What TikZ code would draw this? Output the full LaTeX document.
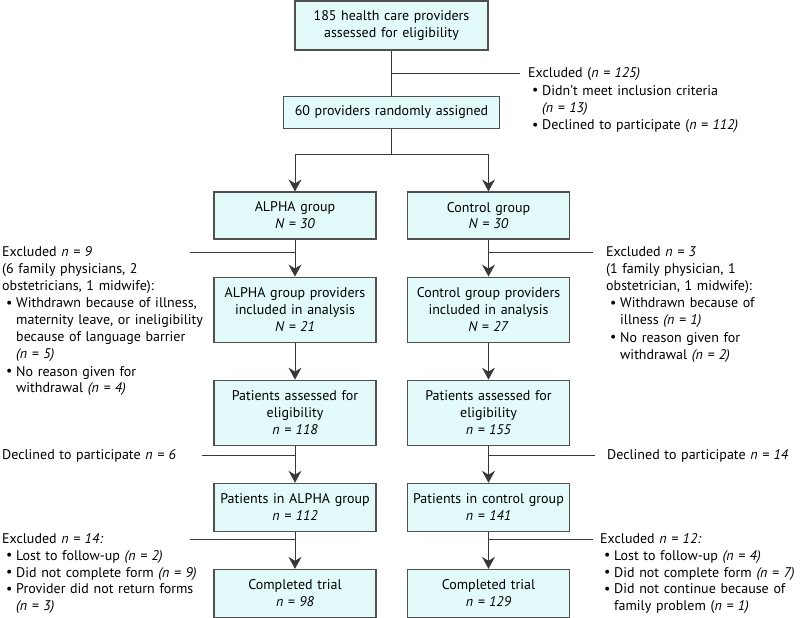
\documentclass[tikz,border=0pt]{standalone}
\usepackage{fontspec}
\setmainfont{PT Sans}
\usetikzlibrary{arrows.meta,positioning}
\definecolor{Cyan}{HTML}{E2FAFA}
\definecolor{Edge}{HTML}{505050}
\definecolor{Wire}{HTML}{383838}
\newcommand{\fs}{\fontsize{14pt}{16.8pt}\selectfont}
\newcommand{\ital}[1]{\textit{#1}}
\newcommand{\blt}{\hspace*{4pt}\makebox[10pt][l]{\raisebox{0.1ex}{\textbullet}}}
\newcommand{\cont}{\hspace*{14pt}}
\tikzset{
  stage/.style={draw=Edge,fill=Cyan,line width=1.1pt,text width=162pt,inner sep=0pt,align=center,font=\fs},
  note/.style={anchor=base west,text width=300pt,inner sep=0pt,align=left,font=\fs},
  wire/.style={draw=Wire,line width=0.9pt},
  arrow/.style={wire,-{Stealth[length=12pt,width=13pt,inset=4pt]}}
}
\begin{document}
\begin{tikzpicture}[x=1pt,y=-1pt,node distance=37pt]
  \useasboundingbox (0,0) rectangle (800,618);

  \node[stage,text width=193pt,minimum height=49pt] (screen) at (391.5,25.5) {185 health care providers\\assessed for eligibility};
  \node[stage,text width=216pt,minimum height=32pt,below=45pt of screen] (random) {60 providers randomly assigned};

  \node[stage,minimum height=47pt] (alpha) at (295,215.5) {ALPHA group\\\ital{N = 30}};
  \node[stage,minimum height=65pt,below=of alpha] (alphaprov) {ALPHA group providers\\included in analysis\\\ital{N = 21}};
  \node[stage,minimum height=65pt,below=of alphaprov] (alphaelig) {Patients assessed for\\eligibility\\\ital{n = 118}};
  \node[stage,minimum height=48pt,below=of alphaelig] (alphapat) {Patients in ALPHA group\\\ital{n = 112}};
  \node[stage,minimum height=48pt,below=of alphapat] (alphadone) {Completed trial\\\ital{n = 98}};

  \node[stage,minimum height=47pt] (control) at (488.5,215.5) {Control group\\\ital{N = 30}};
  \node[stage,minimum height=65pt,below=of control] (controlprov) {Control group providers\\included in analysis\\\ital{N = 27}};
  \node[stage,minimum height=65pt,below=of controlprov] (controlelig) {Patients assessed for\\eligibility\\\ital{n = 155}};
  \node[stage,minimum height=48pt,below=of controlelig] (controlpat) {Patients in control group\\\ital{n = 141}};
  \node[stage,minimum height=48pt,below=of controlpat] (controldone) {Completed trial\\\ital{n = 129}};

  \coordinate (fork) at (391.5,154);
  \coordinate (exclTop) at (520,73);
  \coordinate (exclAlpha) at (190,252);
  \coordinate (exclControl) at (593,252);
  \coordinate (declAlpha) at (202,455);
  \coordinate (declControl) at (595,455);
  \coordinate (lostAlpha) at (190,539);
  \coordinate (lostControl) at (593,539);

  \node[note,xshift=8pt,yshift=-4.5pt] (exclTopText) at (exclTop) {Excluded (\ital{n = 125)}\\[1pt]
    \blt Didn't meet inclusion criteria\\
    \cont\ital{(n = 13)}\\[1pt]
    \blt Declined to participate (\ital{n = 112)}};
  \node[note] (exclAlphaText) at (2,256.5) {Excluded \ital{n = 9}\\
    (6 family physicians, 2\\
    obstetricians, 1 midwife):\\[1pt]
    \blt Withdrawn because of illness,\\
    \cont maternity leave, or ineligibility\\
    \cont because of language barrier\\
    \cont\ital{(n = 5)}\\[1pt]
    \blt No reason given for\\
    \cont withdrawal \ital{(n = 4)}};
  \node[note,text width=190pt,xshift=13pt,yshift=-4.5pt] (exclControlText) at (exclControl) {Excluded \ital{n = 3}\\
    (1 family physician, 1\\
    obstetrician, 1 midwife):\\[1pt]
    \blt Withdrawn because of\\
    \cont illness \ital{(n = 1)}\\[1pt]
    \blt No reason given for\\
    \cont withdrawal \ital{(n = 2)}};
  \node[note] (declAlphaText) at (2,459.5) {Declined to participate \ital{n = 6}};
  \node[note,text width=190pt,xshift=12pt,yshift=-4.5pt] (declControlText) at (declControl) {Declined to participate \ital{n = 14}};
  \node[note] (lostAlphaText) at (2,543.5) {Excluded \ital{n = 14:}\\
    \blt Lost to follow-up \ital{(n = 2)}\\
    \blt Did not complete form \ital{(n = 9)}\\
    \blt Provider did not return forms\\
    \cont\ital{(n = 3)}};
  \node[note,text width=195pt,xshift=7pt,yshift=-4.5pt] (lostControlText) at (lostControl) {Excluded \ital{n = 12:}\\
    \blt Lost to follow-up \ital{(n = 4)}\\
    \blt Did not complete form \ital{(n = 7)}\\
    \blt Did not continue because of\\
    \cont family problem (\ital{n = 1)}};

  \draw[wire] (screen) -- (random);
  \draw[wire] (screen |- exclTop) -- (exclTop);
  \draw[wire] (random) -- (fork);
  \draw[arrow] (fork) -| (alpha);
  \draw[arrow] (fork) -| (control);

  \draw[arrow] (alpha) -- (alphaprov);
  \draw[arrow] (alphaprov) -- (alphaelig);
  \draw[arrow] (alphaelig) -- (alphapat);
  \draw[arrow] (alphapat) -- (alphadone);
  \draw[arrow] (control) -- (controlprov);
  \draw[arrow] (controlprov) -- (controlelig);
  \draw[arrow] (controlelig) -- (controlpat);
  \draw[arrow] (controlpat) -- (controldone);

  \draw[wire] (exclAlpha) -- (alpha |- exclAlpha);
  \draw[wire] (control |- exclControl) -- (exclControl);
  \draw[wire] (declAlpha) -- (alpha |- declAlpha);
  \draw[wire] (control |- declControl) -- (declControl);
  \draw[wire] (lostAlpha) -- (alpha |- lostAlpha);
  \draw[wire] (control |- lostControl) -- (lostControl);
\end{tikzpicture}
\end{document}
